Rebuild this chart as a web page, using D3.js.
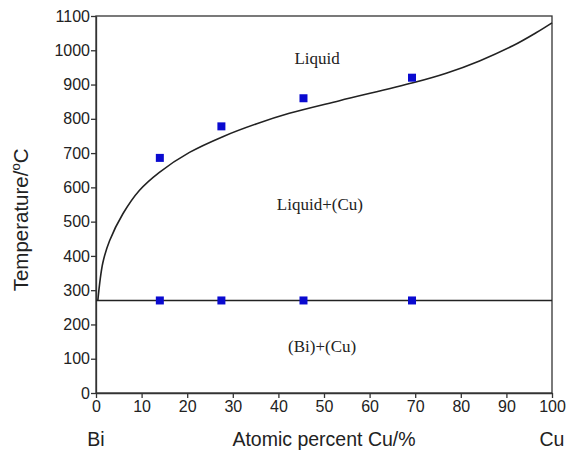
<!DOCTYPE html>
<html>
<head>
<meta charset="utf-8">
<script src="https://cdn.jsdelivr.net/npm/d3@7"></script>
<style>
  body { margin: 0; background: #fff; }
  .tick text { font-family: "Liberation Sans", Arial, sans-serif; font-size: 16px; fill: #222; }
  .phase { font-family: "Liberation Serif", "Times New Roman", serif; font-size: 17px; fill: #222; }
  .axlabel { font-family: "Liberation Sans", Arial, sans-serif; font-size: 19.5px; fill: #222; }
</style>
</head>
<body>
<div class="chart"></div>
<script>
const width = 568;
const height = 454;

// liquidus curve (at.% Cu, temperature °C)
const liquidusX = [0.4, 1.5, 3, 5.9, 9.5, 13.9, 20.5, 27.8, 35.1, 42.4, 53.4, 69.5, 76.8, 84.1, 91.4, 96.5, 100];
const liquidusT = [270, 380, 445, 523, 591, 644, 702, 748, 785, 816, 853, 905, 933, 969, 1013, 1051, 1080];

const eutecticT = 270;

// measured points
const sampleX = [14, 27.5, 45.5, 69.3];
const liquidT = [686, 778, 860, 920];

const xTicks = [0, 10, 20, 30, 40, 50, 60, 70, 80, 90, 100];
const yTicks = [0, 100, 200, 300, 400, 500, 600, 700, 800, 900, 1000, 1100];

const phaseNames = ['Liquid', 'Liquid+(Cu)', '(Bi)+(Cu)'];
const phaseX = [48.5, 49.1, 49.6];
const phaseT = [960, 534, 120];

const margin = {top: 16, right: 16, bottom: 61, left: 96};

const svg = d3
    .select('div.chart')
    .append('svg')
    .attr('width', width)
    .attr('height', height);

const x = d3.scaleLinear().domain([0, 100]).range([margin.left, width - margin.right]);
const y = d3.scaleLinear().domain([0, 1100]).range([height - margin.bottom, margin.top]);

// frame
svg
    .append('rect')
    .attr('x', x(0))
    .attr('y', y(1100))
    .attr('width', x(100) - x(0))
    .attr('height', y(0) - y(1100))
    .attr('fill', 'none')
    .attr('stroke', '#333')
    .attr('stroke-width', 1.3);

const xAxis = svg
    .append('g')
    .attr('transform', 'translate(0,' + y(0) + ')')
    .call(d3.axisBottom(x).tickValues(xTicks).tickFormat(d3.format('d'))
        .tickSize(5).tickPadding(3).tickSizeOuter(0));

const yAxis = svg
    .append('g')
    .attr('transform', 'translate(' + x(0) + ',0)')
    .call(d3.axisLeft(y).tickValues(yTicks).tickFormat(d3.format('d'))
        .tickSize(5).tickPadding(1).tickSizeOuter(0));

[xAxis, yAxis].forEach(function(g) {
  g.selectAll('path, line').attr('stroke', '#333').attr('stroke-width', 1.3);
});

// eutectic line
svg
    .append('line')
    .attr('x1', x(0))
    .attr('x2', x(100))
    .attr('y1', y(eutecticT))
    .attr('y2', y(eutecticT))
    .attr('stroke', '#222')
    .attr('stroke-width', 1.4);

// liquidus
const line = d3
    .line()
    .x(function(d, i) {
      return x(liquidusX[i]);
    })
    .y(function(d) {
      return y(d);
    })
    .curve(d3.curveCatmullRom.alpha(0.5));

svg
    .append('path')
    .datum(liquidusT)
    .attr('d', line)
    .attr('fill', 'none')
    .attr('stroke', '#222')
    .attr('stroke-width', 1.6);

// squares
const sq = 8;
svg
    .selectAll('rect.liq')
    .data(sampleX)
    .enter()
    .append('rect')
    .attr('class', 'liq')
    .attr('x', function(d) {
      return x(d) - sq / 2;
    })
    .attr('y', function(d, i) {
      return y(liquidT[i]) - sq / 2;
    })
    .attr('width', sq)
    .attr('height', sq)
    .attr('fill', '#0a0ad0');

svg
    .selectAll('rect.eut')
    .data(sampleX)
    .enter()
    .append('rect')
    .attr('class', 'eut')
    .attr('x', function(d) {
      return x(d) - sq / 2;
    })
    .attr('y', y(eutecticT) - sq / 2)
    .attr('width', sq)
    .attr('height', sq)
    .attr('fill', '#0a0ad0');

// phase labels
svg
    .selectAll('text.phase')
    .data(phaseNames)
    .enter()
    .append('text')
    .attr('class', 'phase')
    .attr('text-anchor', 'middle')
    .attr('x', function(d, i) {
      return x(phaseX[i]);
    })
    .attr('y', function(d, i) {
      return y(phaseT[i]);
    })
    .text(function(d) {
      return d;
    });

// axis titles
svg
    .append('text')
    .attr('class', 'axlabel')
    .attr('x', x(0))
    .attr('y', 446)
    .attr('text-anchor', 'middle')
    .text('Bi');

svg
    .append('text')
    .attr('class', 'axlabel')
    .attr('x', x(50))
    .attr('y', 446)
    .attr('text-anchor', 'middle')
    .text('Atomic percent Cu/%');

svg
    .append('text')
    .attr('class', 'axlabel')
    .attr('x', x(100))
    .attr('y', 446)
    .attr('text-anchor', 'middle')
    .text('Cu');

const yt = svg
    .append('text')
    .attr('class', 'axlabel')
    .style('font-size', '20.5px')
    .attr('transform', 'translate(28,' + y(505) + ') rotate(-90)')
    .attr('text-anchor', 'middle');
yt.append('tspan').text('Temperature/');
yt.append('tspan').attr('dy', -8).attr('font-size', 13).text('o');
yt.append('tspan').attr('dy', 8).text('C');
</script>
</body>
</html>
